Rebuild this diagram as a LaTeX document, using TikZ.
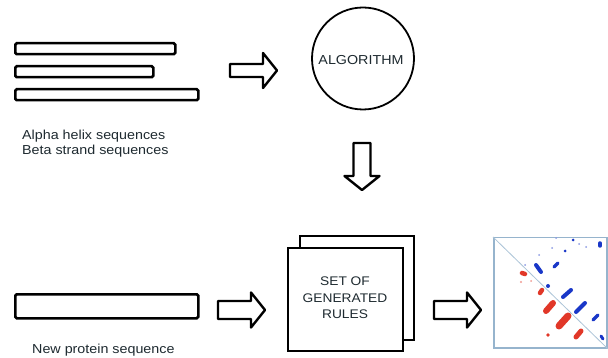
\documentclass[tikz,border=0pt]{standalone}
\usepackage{fontspec}
\setmainfont{Liberation Sans}[FakeStretch=1.1]
\definecolor{txt}{RGB}{30,42,48}
\definecolor{mframe}{RGB}{150,180,205}
\definecolor{bblob}{RGB}{25,55,200}
\definecolor{rblob}{RGB}{225,55,40}
\tikzset{
  seqbar/.style={draw=black, line width=2.5pt, rounded corners=1.5pt, fill=white},
  arrowline/.style={draw=black, line width=2.4pt, line join=round, fill=white},
  lbl/.style={text=txt, inner sep=0pt, font=\fontsize{13}{15}\selectfont},
  rarrow/.pic={\draw[arrowline] (0,-#1) -- (33,-#1) -- (33,-17.5) -- (47,0) -- (33,17.5) -- (33,#1) -- (0,#1) -- cycle;},
  bl/.style={bblob, line width=#1, line cap=round},
  rd/.style={rblob, line width=#1, line cap=round},
}
\begin{document}
\begin{tikzpicture}[x=1pt,y=-1pt]
\fill[white] (0,0) rectangle (608,358);
\useasboundingbox (0,0) rectangle (608,358);

% training sequences
\node[seqbar, minimum width=160pt, minimum height=11pt, anchor=north west, inner sep=0pt] (b1) at (14,42) {};
\node[seqbar, minimum width=138pt, minimum height=11pt, anchor=north west, inner sep=0pt] (b2) at (14,65) {};
\node[seqbar, minimum width=183pt, minimum height=11pt, anchor=north west, inner sep=0pt] (b3) at (14,88) {};
\node[lbl, anchor=north west, align=left] (t1) at (22,130) {Alpha helix sequences\\Beta strand sequences};

% arrow to algorithm
\coordinate (a1) at (230,70.5);
\pic at (a1) {rarrow=6.5};

% algorithm
\node[draw=black, line width=1.8pt, circle, minimum size=102pt, inner sep=0pt] (alg) at (363,58.5) {};
\node[lbl, anchor=north] (algt) at (361,55) {ALGORITHM};

% down arrow
\coordinate (a2) at (362,143);
\pic[rotate=-90] at (a2) {rarrow=8.5};

% rules
\node[draw=black, line width=2.4pt, fill=white, minimum width=114pt, minimum height=104pt, anchor=north west, inner sep=0pt] (rback) at (299,235) {};
\node[draw=black, line width=2.4pt, fill=white, minimum width=115pt, minimum height=103pt, anchor=north west, inner sep=0pt] (rules) at (287,247) {};
\node[lbl, anchor=north, align=center, font=\fontsize{12.5}{16.5}\selectfont] (rt) at (345,277) {SET OF\\GENERATED\\RULES};

% new sequence
\node[seqbar, minimum width=183pt, minimum height=24pt, anchor=north west, inner sep=0pt] (nb) at (14,293) {};
\node[lbl, anchor=north west] (nt) at (32,344) {New protein sequence};

\coordinate (a3) at (218,310);
\pic at (a3) {rarrow=9};
\coordinate (a4) at (434,310);
\pic at (a4) {rarrow=9};

% contact map
\node[draw=mframe, line width=1.5pt, minimum width=113pt, minimum height=110pt, anchor=north west, inner sep=0pt] (map) at (493,237) {};
\draw[mframe!80, line width=0.8pt] (map.north west) -- (map.south east);
% blue (upper triangle)
\draw[bl=4pt] (536,265) -- (541,272);
\draw[bl=3.5pt] (554,267) -- (558,263);
\draw[bl=4pt] (563,297) -- (571,290);
\draw[bl=4pt] (576,312) -- (585,303);
\draw[bl=3.5pt] (593,320) -- (598,315);
\draw[bl=3.5pt] (600,243) -- (600,246);
\draw[bl=3pt] (601,336) -- (603,339);
\fill[bblob] (573,240) circle (1.5pt) (565,251) circle (1.5pt) (548,286) circle (2pt);
\fill[bblob!50] (539,255) circle (1pt) (552,248) circle (1pt) (556,238) circle (1pt) (579,244) circle (1pt) (525,265) circle (1pt) (586,247) circle (1pt);
% red (lower triangle)
\draw[rd=4.5pt] (522,273) -- (525,274);
\draw[rd=4.5pt] (540,293) -- (542,290);
\draw[rd=6pt] (546,311) -- (553,303);
\draw[rd=7pt] (559,326) -- (568,316);
\draw[rd=5pt] (576,337) -- (581,331);
\fill[rblob] (548,335) circle (1.8pt);
\fill[rblob!50] (521,282) circle (1.2pt) (531,281) circle (1pt);
\end{tikzpicture}
\end{document}
